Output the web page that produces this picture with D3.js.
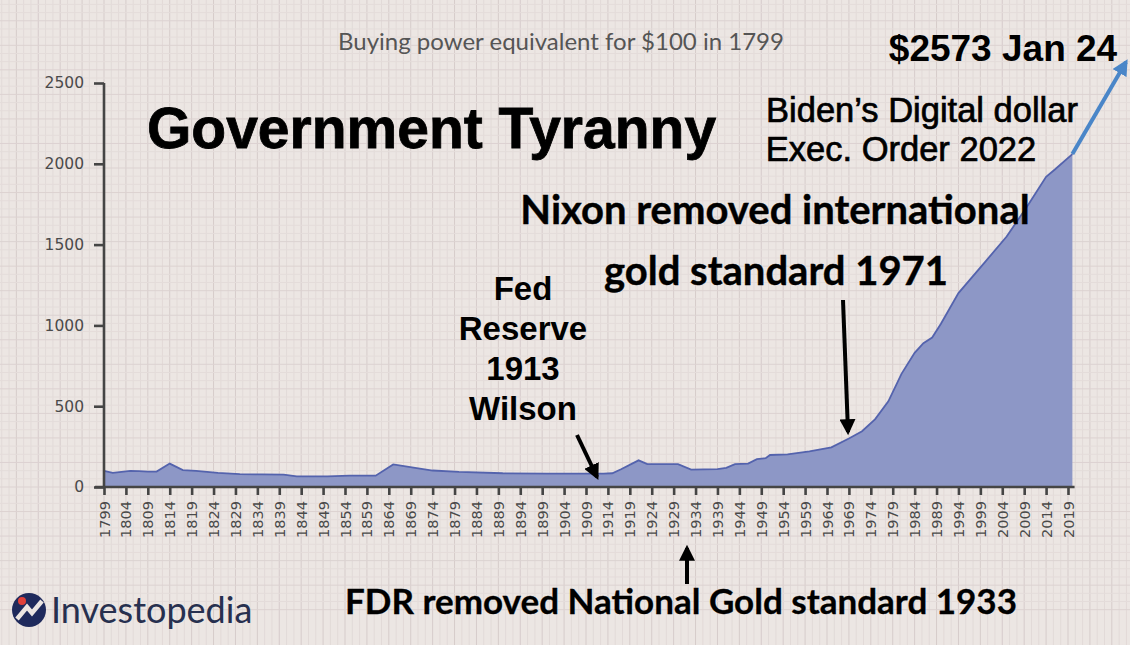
<!DOCTYPE html>
<html>
<head>
<meta charset="utf-8">
<script src="https://cdn.jsdelivr.net/npm/d3@7"></script>
<style>
  html, body { margin: 0; padding: 0; background: #ebe5e2; }
  svg { display: block; }
</style>
</head>
<body>
<div id="chart"></div>
<script>
// Buying power of $100 from 1799
const years = [1799, 1801, 1805, 1807, 1809, 1811, 1814, 1817, 1820, 1825, 1830, 1835, 1840, 1843,
  1850, 1855, 1861, 1865, 1870, 1874, 1880, 1890, 1900, 1913, 1915, 1917, 1921, 1923, 1930, 1933,
  1939, 1941, 1943, 1946, 1948, 1950, 1951, 1955, 1960, 1965, 1969, 1972, 1975, 1978, 1981, 1984,
  1986, 1988, 1990, 1994, 2000, 2005, 2010, 2014, 2016, 2020];
const values = [100, 88, 100, 98, 95, 96, 145, 105, 100, 88, 80, 78, 76, 66,
  66, 70, 70, 140, 118, 102, 93, 85, 83, 83, 85, 110, 165, 142, 142, 108,
  110, 118, 142, 145, 172, 178, 198, 202, 220, 245, 300, 345, 420, 530, 700, 830,
  890, 925, 1010, 1200, 1390, 1550, 1750, 1920, 1965, 2060];
const xTicks = d3.range(1799, 2020, 5);
const yTicks = [0, 500, 1000, 1500, 2000, 2500];

const width = 1130, height = 645;
const svg = d3.select("#chart").append("svg")
  .attr("width", width).attr("height", height);

const x = d3.scaleLinear().domain([1799, 2019]).range([104, 1068]);
const y = d3.scaleLinear().domain([0, 2500]).range([487, 83]);

// graph paper background
svg.append("rect").attr("width", width).attr("height", height).attr("fill", "#ece6e3");
const step = (x(1804) - x(1799)) / 3;
const bg = svg.append("g");
d3.range(-15, 160).forEach((i) => {
  const px = x(1799) + i * step;
  bg.append("line").attr("x1", px).attr("x2", px).attr("y1", 0).attr("y2", height)
    .attr("stroke", i % 3 === 0 ? "#d6cccb" : "#e2dad8").attr("stroke-width", 1);
});
d3.range(-15, 90).forEach((i) => {
  const py = y(0) - i * step * 1.12;
  bg.append("line").attr("x1", 0).attr("x2", width).attr("y1", py).attr("y2", py)
    .attr("stroke", i % 3 === 0 ? "#dcd2d1" : "#e4dcda").attr("stroke-width", 1);
});

// area
const pts = years.map((yr, i) => [yr, values[i]]);
svg.append("path")
  .datum(pts)
  .attr("fill", "#8d97c6")
  .attr("d", d3.area().x((d) => x(d[0])).y0(y(0)).y1((d) => y(d[1])));
svg.append("path")
  .datum(pts)
  .attr("fill", "none")
  .attr("stroke", "#5463ad")
  .attr("stroke-width", 1.8)
  .attr("d", d3.line().x((d) => x(d[0])).y((d) => y(d[1])));

// axes
const yAxis = svg.append("g")
  .attr("transform", `translate(${x(1799)},0)`)
  .call(d3.axisLeft(y).tickValues(yTicks).tickFormat(d3.format("d"))
    .tickSize(10).tickPadding(10).tickSizeOuter(0));
const xAxis = svg.append("g")
  .attr("transform", `translate(0,${y(0)})`)
  .call(d3.axisBottom(x).tickValues(xTicks).tickFormat(d3.format("d")).tickSize(8).tickSizeOuter(0));
xAxis.select(".domain").attr("d", `M${x(1799) - 9},0H${x(2020.5)}`);
yAxis.select(".domain").attr("d", `M0,${y(2500)}V${y(0)}`);
[xAxis, yAxis].forEach((a) => {
  a.selectAll(".domain, line").attr("stroke", "#454545").attr("stroke-width", 2.6);
  a.selectAll("text").attr("fill", "#4a4a4a")
    .style("font-family", "'DejaVu Sans', sans-serif").style("font-size", "14.5px");
});
yAxis.selectAll("text").style("font-size", "15.5px");
xAxis.selectAll("text")
  .attr("transform", "rotate(-90)")
  .attr("text-anchor", "end")
  .attr("x", -14).attr("y", 0).attr("dy", "0.35em");

// texts
const txt = (t, px, py, size, opts = {}) =>
  svg.append("text").attr("x", px).attr("y", py).text(t)
    .attr("text-anchor", opts.anchor || "start")
    .attr("fill", opts.fill || "#000")
    .style("font-family", opts.font || "'Liberation Sans', Arial, sans-serif")
    .style("font-weight", opts.weight || "bold")
    .style("font-size", size + "px");

txt("Buying power equivalent for $100 in 1799", 561, 50, 24,
  { anchor: "middle", fill: "#555", weight: "normal", font: "Lato, sans-serif" });
txt("Government Tyranny", 147, 148, 57).attr("stroke", "#000").attr("stroke-width", 0.8);
txt("$2573 Jan 24", 1003, 61, 37, { anchor: "middle" });
txt("Biden\u2019s Digital dollar", 922, 122, 34.5, { anchor: "middle", weight: "normal" })
  .attr("stroke", "#000").attr("stroke-width", 0.7);
txt("Exec. Order 2022", 901, 161, 34.5, { anchor: "middle", weight: "normal" })
  .attr("stroke", "#000").attr("stroke-width", 0.7);
txt("Nixon removed international", 775, 224, 40, { anchor: "middle", font: "Lato, sans-serif" })
  .attr("stroke", "#000").attr("stroke-width", 0.4);
txt("gold standard 1971", 776, 285, 40, { anchor: "middle", font: "Lato, sans-serif" })
  .attr("stroke", "#000").attr("stroke-width", 0.4);
["Fed", "Reserve", "1913", "Wilson"].forEach((t, i) =>
  txt(t, 523, 300 + i * 40, 33, { anchor: "middle" }));
txt("FDR removed National Gold standard 1933", 681, 614, 35, { anchor: "middle", font: "Lato, sans-serif" })
  .attr("stroke", "#000").attr("stroke-width", 0.3);

// arrows
const defs = svg.append("defs");
const marker = (id, color) => defs.append("marker").attr("id", id)
  .attr("viewBox", "0 0 10 10").attr("refX", 8).attr("refY", 5)
  .attr("markerWidth", 4).attr("markerHeight", 4).attr("orient", "auto")
  .append("path").attr("d", "M0,0L10,5L0,10z").attr("fill", color);
marker("headK", "#000");
marker("headB", "#4a86c8");
const arrow = (x1, y1, x2, y2, color, id, w) =>
  svg.append("line").attr("x1", x1).attr("y1", y1).attr("x2", x2).attr("y2", y2)
    .attr("stroke", color).attr("stroke-width", w).attr("marker-end", `url(#${id})`);
arrow(843, 300, 848, 432, "#000", "headK", 4);
arrow(577, 435, 597, 477, "#000", "headK", 4);
arrow(687, 584, 687, 548, "#000", "headK", 4);
arrow(x(2020), y(2060), 1126, 62, "#4a86c8", "headB", 4);

// logo
const logo = svg.append("g").attr("transform", "translate(29,610)");
logo.append("circle").attr("r", 17).attr("fill", "#1f2a5c");
logo.append("path").attr("d", "M-12,9 L-2,-3 L3,3 L13,-9")
  .attr("fill", "none").attr("stroke", "#ebe5e2").attr("stroke-width", 4.5);
logo.append("circle").attr("cx", -7).attr("cy", -9).attr("r", 4).attr("fill", "#e0403a");
txt("Investopedia", 51, 623, 36, { fill: "#27304f", weight: "normal", font: "Lato, sans-serif" });
</script>
</body>
</html>
